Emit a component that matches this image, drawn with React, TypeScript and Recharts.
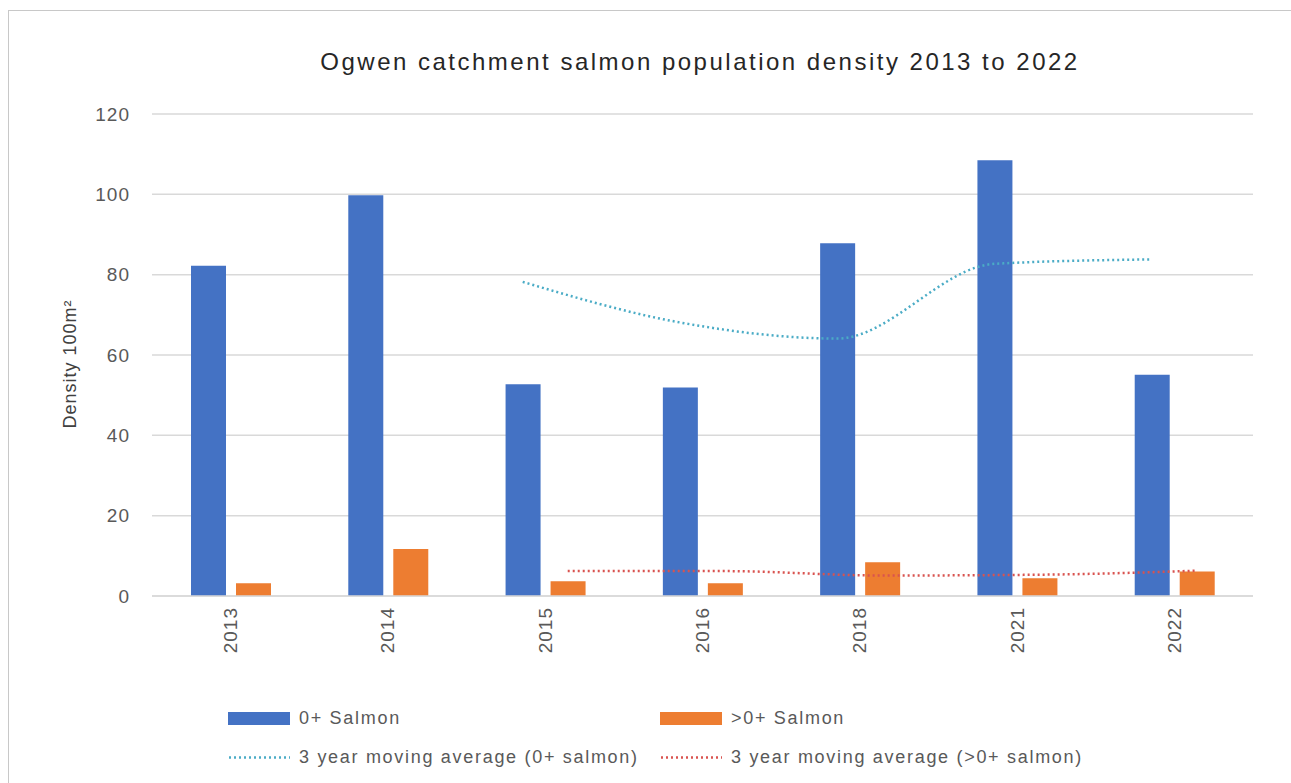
import React from "react";
import {
  Bar,
  CartesianGrid,
  ComposedChart,
  Line,
  XAxis,
  YAxis,
} from "recharts";

const years = ["2013", "2014", "2015", "2016", "2018", "2021", "2022"];
const fry = [82.2, 99.8, 52.7, 51.9, 87.8, 108.5, 55.1];
const parr = [3.2, 11.7, 3.7, 3.2, 8.4, 4.4, 6.1];
const fryAvg = [null, null, 78.2, 68.1, 64.1, 82.7, 83.8];
const parrAvg = [null, null, 6.2, 6.2, 5.1, 5.3, 6.3];
const yTicks = [0, 20, 40, 60, 80, 100, 120];

const BLUE = "#4472C4";
const ORANGE = "#ED7D31";
const TEAL = "#4BACC6";
const RED = "#D9534F";
const TEXT = "#595959";
const FONT = "'Liberation Sans', Arial, sans-serif";

const data = years.map((year, i) => ({
  year,
  fry: fry[i],
  parr: parr[i],
  fryAvg: fryAvg[i],
  parrAvg: parrAvg[i],
}));

const YearTick = ({ x, y, payload }: any) => (
  <text
    transform={`translate(${x}, ${y + 3}) rotate(-90)`}
    textAnchor="end"
    dominantBaseline="central"
    fontSize={19}
    letterSpacing={1}
    fill={TEXT}
    fontFamily={FONT}
  >
    {payload.value}
  </text>
);

const YTitle = ({ viewBox }: any) => {
  const cy = viewBox.y + viewBox.height / 2 + 9;
  return (
    <text
      transform={`translate(70, ${cy}) rotate(-90)`}
      textAnchor="middle"
      dominantBaseline="central"
      fontSize={18}
      letterSpacing={1}
      fill="#404040"
      fontFamily={FONT}
    >
      Density 100m²
    </text>
  );
};

const legendItems = [
  { label: "0+ Salmon", color: BLUE, kind: "bar" },
  { label: ">0+ Salmon", color: ORANGE, kind: "bar" },
  { label: "3 year moving average (0+ salmon)", color: TEAL, kind: "dot" },
  { label: "3 year moving average (>0+ salmon)", color: RED, kind: "dot" },
];

// legend drawn as html so it does not eat into the plot height
const ChartLegend = () => (
  <div style={{ position: "absolute", left: 0, top: 706, width: 1291, height: 80, fontFamily: FONT }}>
    {legendItems.map((item, i) => {
      const left = i % 2 === 0 ? 228 : 660;
      const top = i < 2 ? 0 : 39;
      return (
        <div
          key={item.label}
          style={{ position: "absolute", left, top, display: "flex", alignItems: "center", height: 24 }}
        >
          {item.kind === "bar" ? (
            <div style={{ width: 62, height: 13, background: item.color }} />
          ) : (
            <svg width={62} height={13}>
              <line
                x1={1}
                y1={6.5}
                x2={62}
                y2={6.5}
                stroke={item.color}
                strokeWidth={2.5}
                strokeDasharray="2 3"
              />
            </svg>
          )}
          <span
            style={{ marginLeft: 9, fontSize: 18, letterSpacing: 1.7, color: TEXT, whiteSpace: "nowrap" }}
          >
            {item.label}
          </span>
        </div>
      );
    })}
  </div>
);

export default function App() {
  return (
    <div
      style={{
        position: "absolute",
        left: 0,
        top: 0,
        width: 1291,
        height: 783,
        background: "#fff",
        overflow: "hidden",
      }}
    >
      <div
        style={{
          position: "absolute",
          left: 8,
          top: 10,
          width: 1320,
          height: 820,
          border: "1.5px solid #c8c8c8",
        }}
      />
      <div
        style={{
          position: "absolute",
          left: 0,
          width: 1400,
          top: 48,
          textAlign: "center",
          fontFamily: FONT,
          fontSize: 24,
          letterSpacing: 2.5,
          color: "#262626",
        }}
      >
        Ogwen catchment salmon population density 2013 to 2022
      </div>
      <ComposedChart
        width={1291}
        height={783}
        data={data}
        margin={{ top: 114, right: 38, left: 92, bottom: 127 }}
        barSize={35}
        barGap={10}
        style={{ position: "absolute", left: 0, top: 0 }}
      >
        <CartesianGrid vertical={false} stroke="#d9d9d9" strokeWidth={1.5} />
        <XAxis
          dataKey="year"
          height={60}
          tickLine={false}
          axisLine={{ stroke: "#d9d9d9", strokeWidth: 1.5 }}
          tick={<YearTick />}
          interval={0}
        />
        <XAxis
          xAxisId="fryAxis"
          dataKey="year"
          hide
          padding={{ left: -22.5, right: 22.5 }}
        />
        <XAxis
          xAxisId="parrAxis"
          dataKey="year"
          hide
          padding={{ left: 22.5, right: -22.5 }}
        />
        <YAxis
          width={60}
          domain={[0, 120]}
          ticks={yTicks}
          axisLine={false}
          tickLine={false}
          tickMargin={16}
          tick={{ fontSize: 19, fill: TEXT, fontFamily: FONT, letterSpacing: 1 }}
          label={<YTitle />}
        />
        <Bar dataKey="fry" name="0+ Salmon" fill={BLUE} isAnimationActive={false} />
        <Bar dataKey="parr" name=">0+ Salmon" fill={ORANGE} isAnimationActive={false} />
        <Line
          xAxisId="fryAxis"
          dataKey="fryAvg"
          type="monotone"
          stroke={TEAL}
          strokeWidth={2.5}
          strokeDasharray="2 3"
          dot={false}
          activeDot={false}
          isAnimationActive={false}
        />
        <Line
          xAxisId="parrAxis"
          dataKey="parrAvg"
          type="monotone"
          stroke={RED}
          strokeWidth={2.5}
          strokeDasharray="2 3"
          dot={false}
          activeDot={false}
          isAnimationActive={false}
        />
      </ComposedChart>
      <ChartLegend />
    </div>
  );
}
